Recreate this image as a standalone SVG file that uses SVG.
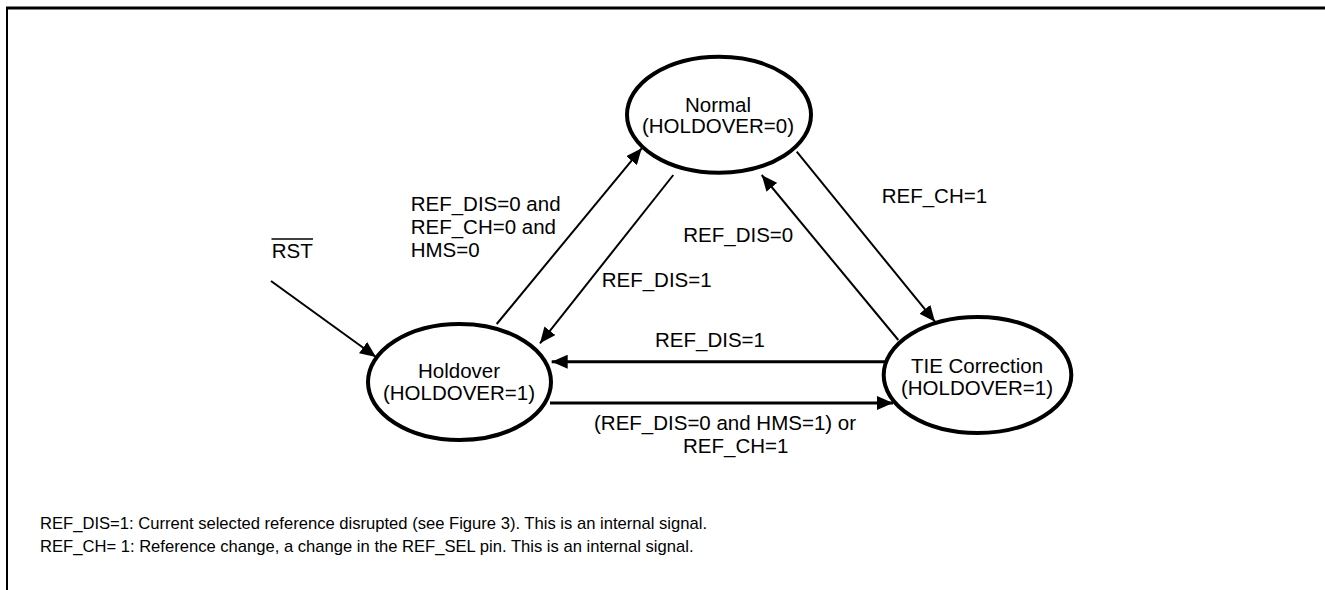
<svg xmlns="http://www.w3.org/2000/svg" width="1325" height="590" viewBox="0 0 1325 590">
  <defs>
    <marker id="ah" markerUnits="userSpaceOnUse" markerWidth="17" markerHeight="14" refX="16" refY="7" orient="auto">
      <path d="M0,0 L16,7 L0,14 z" fill="#000"/>
    </marker>
    <style>
      text { font-family: "Liberation Sans", Arial, sans-serif; fill: #000; }
      .lbl { font-size: 20.5px; }
      .st { font-size: 20.5px; text-anchor: middle; }
      .note { font-size: 16.6px; }
      .node ellipse { fill: #fff; stroke: #000; stroke-width: 4; }
      .thin { stroke: #000; stroke-width: 2; fill: none; }
      .thick { stroke: #000; stroke-width: 3; fill: none; }
    </style>
  </defs>
  <rect width="1325" height="590" fill="#fff"/>
  <path d="M7,590 V8" fill="none" stroke="#000" stroke-width="2"/>
  <path d="M6,8 H1325" fill="none" stroke="#000" stroke-width="3"/>

  <g id="connectors">
    <line class="thin" x1="271" y1="281" x2="376" y2="357" marker-end="url(#ah)"/>
    <line class="thin" x1="496.7" y1="324" x2="641.7" y2="148.3" marker-end="url(#ah)"/>
    <line class="thin" x1="673.3" y1="175" x2="540" y2="343.3" marker-end="url(#ah)"/>
    <line class="thin" x1="796.7" y1="151.7" x2="935" y2="321.7" marker-end="url(#ah)"/>
    <line class="thin" x1="898.3" y1="340" x2="761.7" y2="175" marker-end="url(#ah)"/>
    <line class="thick" x1="885" y1="361.7" x2="551.7" y2="361.7" marker-end="url(#ah)"/>
    <line class="thick" x1="550" y1="403" x2="893" y2="403" marker-end="url(#ah)"/>
  </g>

  <g id="node-normal" class="node">
    <ellipse cx="719" cy="114.7" rx="92" ry="58"/>
    <text class="st" x="718" y="111.7">Normal</text>
    <text class="st" x="718" y="133.3">(HOLDOVER=0)</text>
  </g>
  <g id="node-holdover" class="node">
    <ellipse cx="459.5" cy="382" rx="91.5" ry="58"/>
    <text class="st" x="459" y="378.3">Holdover</text>
    <text class="st" x="459" y="400">(HOLDOVER=1)</text>
  </g>
  <g id="node-tie" class="node">
    <ellipse cx="977.5" cy="375" rx="93.8" ry="58"/>
    <text class="st" x="977" y="373.3">TIE Correction</text>
    <text class="st" x="977" y="395">(HOLDOVER=1)</text>
  </g>

  <g id="labels">
    <text class="lbl" x="271.7" y="258.3">RST</text>
    <line x1="271.5" y1="239" x2="313" y2="239" stroke="#000" stroke-width="1.6"/>
    <text class="lbl" x="410.7" y="210.7">REF_DIS=0 and</text>
    <text class="lbl" x="410.7" y="234">REF_CH=0 and</text>
    <text class="lbl" x="410.7" y="257.3">HMS=0</text>
    <text class="lbl" x="601.7" y="287.3">REF_DIS=1</text>
    <text class="lbl" x="683.3" y="241.7">REF_DIS=0</text>
    <text class="lbl" x="881.7" y="203.3">REF_CH=1</text>
    <text class="lbl" x="655" y="346.5">REF_DIS=1</text>
    <text class="lbl" x="594" y="430">(REF_DIS=0 and HMS=1) or</text>
    <text class="lbl" x="683" y="452.7">REF_CH=1</text>
  </g>

  <g id="notes">
    <text class="note" x="40" y="529">REF_DIS=1: Current selected reference disrupted (see Figure 3). This is an internal signal.</text>
    <text class="note" x="40" y="552">REF_CH= 1: Reference change, a change in the REF_SEL pin. This is an internal signal.</text>
  </g>
</svg>
